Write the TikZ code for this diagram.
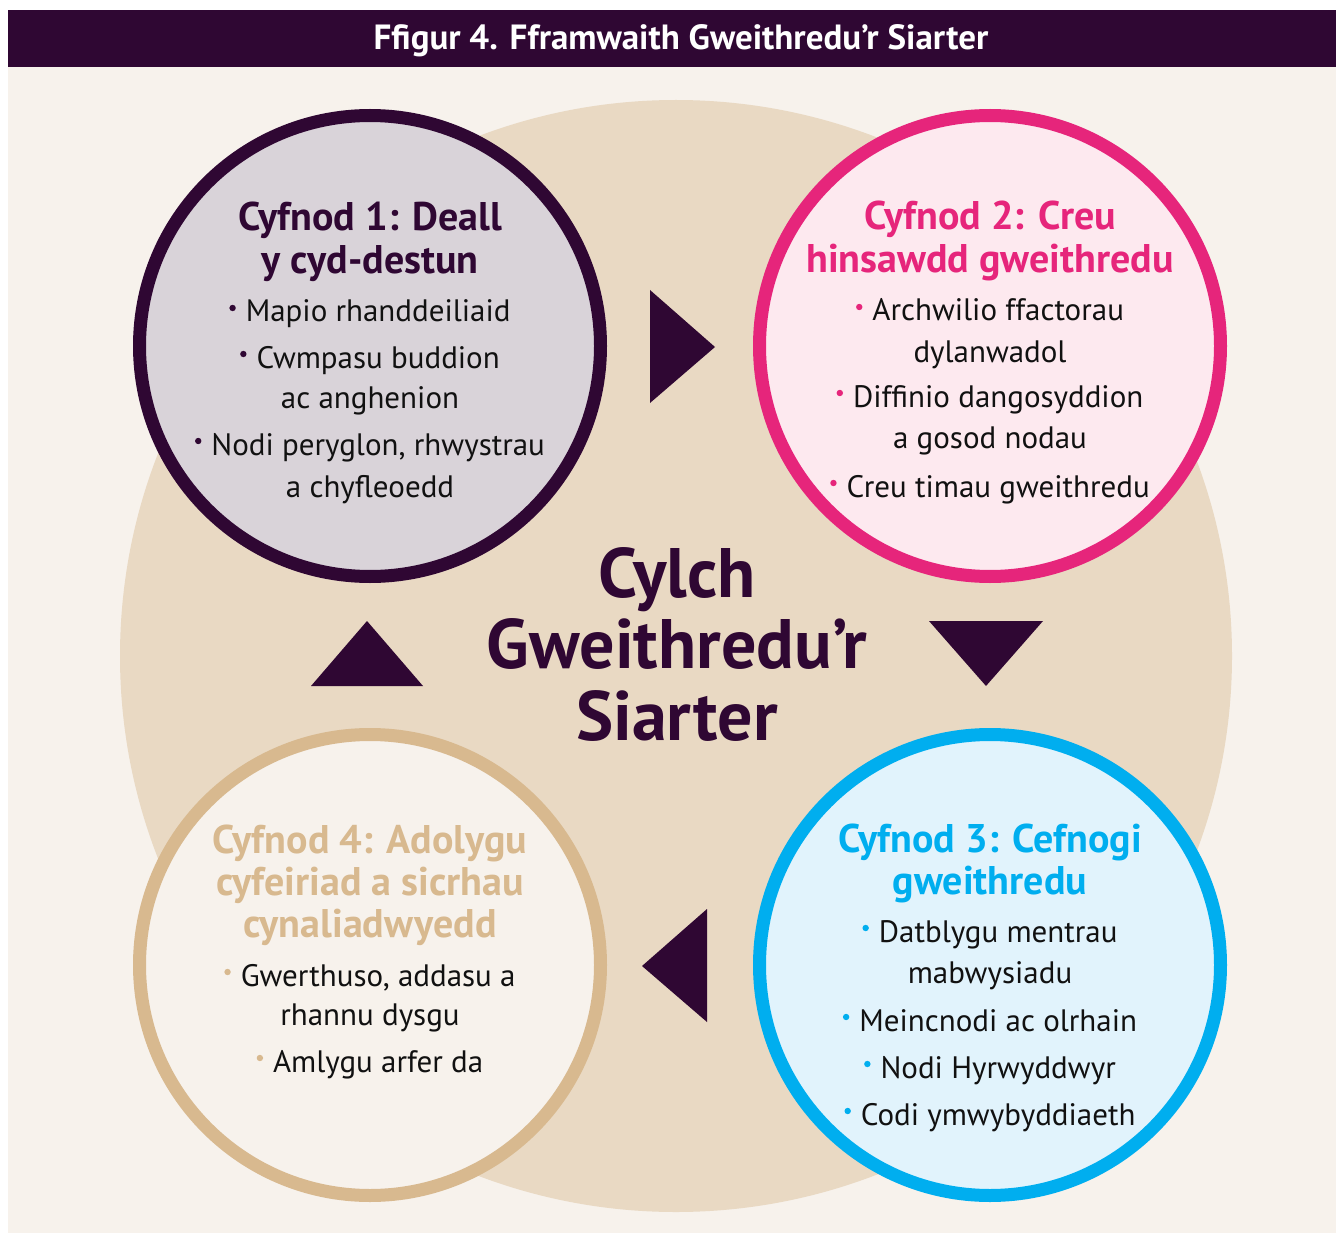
\documentclass[tikz,border=0pt]{standalone}
\usepackage{fontspec}
\setmainfont{PT Sans}
\definecolor{dk}{RGB}{47,7,51}
\definecolor{pk}{RGB}{230,37,123}
\definecolor{pkf}{RGB}{253,233,239}
\definecolor{bl}{RGB}{0,174,239}
\definecolor{blf}{RGB}{225,243,252}
\definecolor{tn}{RGB}{216,185,143}
\definecolor{cream}{RGB}{247,242,236}
\definecolor{beige}{RGB}{233,217,195}
\definecolor{lil}{RGB}{217,211,217}
\definecolor{ink}{RGB}{17,17,17}
\newcommand\bul[1]{\tikz[baseline=0pt]{\fill[#1] (0pt,14pt) circle[radius=3.2pt];}\hspace{10pt}}
\begin{document}
\begin{tikzpicture}[x=1pt,y=-1pt,
  phase/.style={circle, line width=13pt, minimum size=461pt, inner sep=0pt},
  ln/.style={anchor=base, inner sep=0pt, text=ink, font=\fontsize{31}{31}\selectfont},
  ttl/.style={anchor=base, inner sep=0pt, font=\bfseries\fontsize{40}{40}\selectfont},
  ctr/.style={anchor=base, inner sep=0pt, text=dk, font=\bfseries\fontsize{70}{70}\selectfont},
  tri/.style={fill=dk}]
\useasboundingbox (0,0) rectangle (1336,1233);
\fill[cream] (8,67) rectangle (1336,1233);
\fill[dk] (8,10) rectangle (1336,67);
\node[anchor=base, inner sep=0pt, text=white, font=\bfseries\fontsize{35}{35}\selectfont] (hdr) at (681,50) {Ffigur 4. Fframwaith Gweithredu’r Siarter};
\node[circle, fill=beige, minimum size=1112pt, inner sep=0pt] (big) at (676,656) {};
% phase circles
\node[phase, draw=dk, fill=lil] (c1) at (370,346) {};
\node[phase, draw=pk, fill=pkf] (c2) at (990,346) {};
\node[phase, draw=bl, fill=blf] (c3) at (990,965) {};
\node[phase, draw=tn, fill=cream] (c4) at (370,965) {};
% arrows (triangles)
\fill[tri] (650,290) -- (715,347) -- (650,403) -- cycle;
\fill[tri] (929,621) -- (1043,621) -- (986,686) -- cycle;
\fill[tri] (707,909) -- (642,966) -- (707,1022) -- cycle;
\fill[tri] (311,686) -- (367,621) -- (423,686) -- cycle;
% centre
\node[ctr] (m1) at (677,597) {Cylch};
\node[ctr] (m2) at (677,668) {Gweithredu’r};
\node[ctr] (m3) at (677,740) {Siarter};
% phase 1
\node[ttl, text=dk] (t11) at (370,231) {Cyfnod 1: Deall};
\node[ttl, text=dk] (t12) at (370,274) {y cyd-destun};
\node[ln] (b11) at (370,322) {\bul{dk}Mapio rhanddeiliaid};
\node[ln] (b12) at (370,368) {\bul{dk}Cwmpasu buddion};
\node[ln] (b13) at (370,408) {ac anghenion};
\node[ln] (b14) at (370,455) {\bul{dk}Nodi peryglon, rhwystrau};
\node[ln] (b15) at (370,497) {a chyfleoedd};
% phase 2
\node[ttl, text=pk] (t21) at (990,230) {Cyfnod 2: Creu};
\node[ttl, text=pk] (t22) at (990,273) {hinsawdd gweithredu};
\node[ln] (b21) at (990,321) {\bul{pk}Archwilio ffactorau};
\node[ln] (b22) at (990,362) {dylanwadol};
\node[ln] (b23) at (990,407) {\bul{pk}Diffinio dangosyddion};
\node[ln] (b24) at (990,448) {a gosod nodau};
\node[ln] (b25) at (990,497) {\bul{pk}Creu timau gweithredu};
% phase 3
\node[ttl, text=bl] (t31) at (990,852) {Cyfnod 3: Cefnogi};
\node[ttl, text=bl] (t32) at (990,894) {gweithredu};
\node[ln] (b31) at (990,942) {\bul{bl}Datblygu mentrau};
\node[ln] (b32) at (990,983) {mabwysiadu};
\node[ln] (b33) at (990,1031) {\bul{bl}Meincnodi ac olrhain};
\node[ln] (b34) at (990,1078) {\bul{bl}Nodi Hyrwyddwyr};
\node[ln] (b35) at (990,1125) {\bul{bl}Codi ymwybyddiaeth};
% phase 4
\node[ttl, text=tn] (t41) at (370,853) {Cyfnod 4: Adolygu};
\node[ttl, text=tn] (t42) at (370,895) {cyfeiriad a sicrhau};
\node[ttl, text=tn] (t43) at (370,937) {cynaliadwyedd};
\node[ln] (b41) at (370,986) {\bul{tn}Gwerthuso, addasu a};
\node[ln] (b42) at (370,1025) {rhannu dysgu};
\node[ln] (b43) at (370,1072) {\bul{tn}Amlygu arfer da};
\end{tikzpicture}
\end{document}
